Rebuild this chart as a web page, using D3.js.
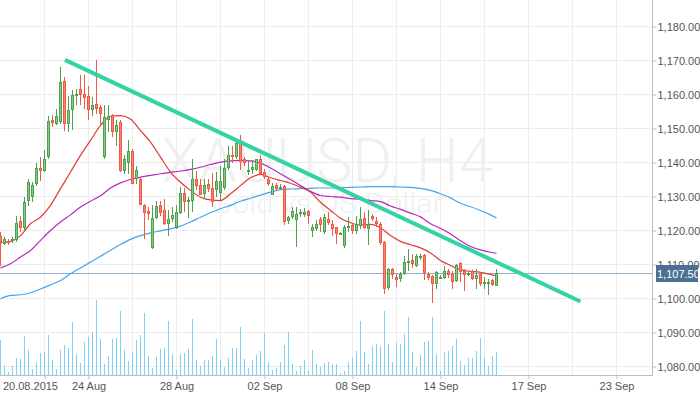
<!DOCTYPE html>
<html><head><meta charset="utf-8">
<script src="https://cdn.jsdelivr.net/npm/d3@7/dist/d3.min.js"></script>
<style>html,body{margin:0;padding:0;background:#fff;overflow:hidden}</style>
</head><body><svg id="c" width="700" height="394"></svg>
<script>
// ---- data (XAUUSD H4) ----
const opens = [1118.5,1116.1,1117.0,1116.8,1117.1,1122.7,1120.7,1128.8,1129.8,1133.7,
1138.4,1137.6,1141.5,1152.6,1151.4,1151.9,1164.1,1151.4,1155.3,1159.7,
1161.7,1160.2,1159.5,1155.3,1157.3,1156.3,1141.6,1152.6,1154.0,1149.1,
1151.9,1137.6,1139.9,1143.5,1135.2,1135.2,1127.6,1125.6,1114.8,1123.7,
1127.6,1125.9,1122.0,1123.4,1120.7,1125.2,1131.1,1128.3,1128.6,1135.2,
1133.4,1130.8,1133.7,1132.5,1132.0,1131.0,1132.6,1138.5,1142.3,1141.5,
1145.9,1141.0,1137.2,1137.9,1137.9,1140.9,1137.2,1135.2,1130.5,1133.4,
1132.3,1133.2,1122.8,1124.0,1123.0,1124.8,1124.6,1125.6,1120.0,1120.5,
1123.3,1119.5,1123.5,1122.0,1121.0,1119.1,1115.5,1120.8,1121.5,1120.0,
1121.2,1123.8,1120.5,1124.4,1122.8,1122.0,1116.6,1103.2,1108.7,1106.3,
1105.8,1107.3,1110.8,1111.3,1109.7,1112.0,1112.9,1107.3,1106.6,1104.3,
1106.0,1106.0,1108.2,1107.3,1105.2,1110.5,1108.2,1107.0,1108.2,1105.6,
1107.3,1104.3,1104.3,1105.5,1103.8];
const highs = [1119.5,1118.0,1117.6,1118.2,1124.4,1124.2,1129.9,1135.0,1134.4,1139.9,
1141.6,1143.8,1153.8,1154.0,1155.8,1168.0,1165.1,1159.7,1161.2,1161.7,
1165.6,1165.6,1162.6,1159.2,1170.0,1156.8,1156.8,1156.8,1154.3,1152.4,
1152.4,1142.1,1146.5,1144.0,1139.1,1135.4,1127.9,1126.9,1127.4,1128.8,
1128.8,1129.3,1125.9,1126.9,1127.4,1132.7,1132.5,1129.8,1140.9,1137.6,
1135.2,1135.2,1135.0,1137.0,1137.2,1139.0,1141.0,1145.0,1145.0,1147.3,
1148.0,1141.7,1140.3,1140.6,1141.1,1142.1,1138.1,1135.7,1133.9,1134.0,
1133.7,1133.4,1124.4,1127.0,1127.0,1126.2,1126.5,1126.0,1121.8,1123.0,
1124.0,1124.8,1125.5,1123.0,1121.0,1119.6,1121.5,1124.0,1122.0,1124.4,
1126.9,1125.5,1125.9,1124.9,1124.0,1122.5,1116.9,1109.0,1109.0,1107.3,
1107.7,1112.6,1114.6,1113.0,1113.0,1113.0,1113.1,1107.7,1106.8,1108.2,
1107.0,1109.7,1108.7,1108.0,1110.2,1110.7,1108.7,1108.2,1108.5,1108.7,
1107.7,1106.3,1105.8,1105.8,1108.7];
const lows = [1109.7,1115.8,1115.8,1116.2,1116.6,1119.5,1120.0,1127.2,1128.3,1133.2,
1134.7,1137.2,1140.9,1150.4,1150.9,1151.4,1149.4,1149.1,1149.7,1156.8,
1157.0,1155.8,1152.4,1153.8,1154.3,1151.4,1141.1,1148.9,1147.4,1145.0,
1137.2,1136.7,1136.7,1133.7,1133.7,1127.5,1117.6,1123.0,1114.6,1123.4,
1124.4,1121.5,1118.5,1122.5,1120.5,1124.9,1125.4,1123.6,1125.4,1131.8,
1130.3,1129.3,1131.3,1126.9,1129.8,1129.0,1132.0,1137.8,1139.8,1141.0,
1137.7,1139.1,1136.2,1136.7,1137.6,1136.2,1135.2,1133.2,1130.3,1131.8,
1131.8,1121.5,1122.0,1123.5,1115.1,1124.0,1124.0,1122.0,1118.2,1120.0,
1119.5,1119.0,1121.5,1118.5,1116.0,1119.0,1115.0,1119.5,1119.0,1119.0,
1120.5,1120.3,1115.6,1122.8,1121.0,1115.8,1101.4,1102.5,1105.8,1103.5,
1104.8,1106.8,1108.2,1109.0,1109.4,1111.2,1105.3,1105.5,1098.7,1102.9,
1105.6,1105.6,1106.0,1102.8,1104.8,1104.8,1102.3,1106.5,1105.3,1102.8,
1103.8,1102.8,1101.1,1103.8,1103.6];
const closes = [1116.5,1117.4,1116.3,1117.5,1122.3,1120.7,1128.5,1134.2,1133.4,1138.5,
1137.4,1141.1,1152.3,1151.6,1153.8,1163.8,1151.4,1155.3,1159.9,1160.2,
1159.9,1158.9,1155.3,1157.0,1155.8,1154.3,1153.3,1153.8,1148.9,1151.1,
1137.6,1140.9,1143.5,1133.7,1137.8,1127.6,1125.1,1124.9,1123.7,1127.2,
1125.2,1122.0,1123.4,1124.6,1125.4,1131.1,1128.3,1129.0,1135.0,1133.2,
1130.5,1133.4,1132.3,1128.3,1134.7,1134.5,1138.5,1142.3,1141.6,1145.6,
1140.2,1140.0,1137.7,1138.7,1140.9,1136.7,1135.7,1133.7,1133.2,1132.3,
1132.9,1122.4,1123.9,1125.8,1124.9,1125.4,1125.5,1124.4,1121.0,1122.0,
1121.6,1124.0,1122.3,1120.5,1119.0,1119.4,1121.0,1121.3,1120.0,1122.0,
1123.4,1120.6,1122.0,1123.5,1121.9,1116.4,1102.9,1108.7,1106.8,1105.3,
1107.3,1110.7,1111.1,1110.2,1112.4,1112.6,1107.5,1106.0,1104.3,1107.7,
1106.3,1108.2,1107.0,1104.8,1109.9,1107.7,1106.8,1107.6,1105.6,1107.0,
1104.3,1105.0,1105.0,1104.0,1107.5];
const volumes = [35,9,3,9,17,16,39,25,6,13,22,23,40,15,6,25,30,27,53,21,
12,33,38,43,75,36,11,19,36,37,64,25,14,23,35,40,62,19,7,18,
26,27,54,21,5,21,22,26,56,15,9,15,15,19,36,15,8,17,27,27,
48,16,7,15,20,24,42,13,5,7,13,30,43,11,4,9,15,4,25,11,
8,12,13,11,11,2,4,13,17,24,54,23,11,29,31,29,64,31,13,32,
31,41,58,23,8,20,33,34,58,21,4,23,24,29,36,14,10,17,17,24,
37,17,9,19,23];
// moving averages, sampled at bar positions
const maBars = [0,2.5,5,7.5,10,12.5,15,17.5,20,22.5,25,27.5,30,32.5,35,37.5,40,42.5,45,47.5,
50,52.5,55,57.5,60,62.5,65,67.5,70,72.5,75,77.5,80,82.5,85,87.5,90,92.5,95,97.5,
100,102.5,105,107.5,110,112.5,115,117.5,120,122.5,124];
const maFast = [1116.4,1116.8,1118.5,1122.0,1123.9,1127.4,1132.3,1137.2,1142.1,1146.5,
1150.9,1153.6,1153.8,1152.8,1149.4,1146.0,1141.6,1137.2,1134.2,1131.8,
1129.8,1129.0,1128.8,1130.8,1133.2,1135.5,1136.5,1135.5,1134.7,1133.9,
1132.7,1131.3,1128.3,1125.9,1123.6,1122.3,1121.6,1121.8,1120.8,1118.5,
1116.8,1115.8,1114.9,1113.4,1111.2,1109.7,1108.4,1108.0,1107.7,1107.1,1106.6];
const maMid = [1109.0,1110.2,1112.2,1114.1,1117.1,1120.0,1122.5,1124.6,1126.9,1128.6,
1130.2,1132.5,1134.0,1135.0,1135.7,1136.2,1136.7,1137.1,1137.5,1138.0,
1138.6,1139.4,1140.1,1140.5,1140.6,1140.5,1139.8,1138.4,1136.7,1135.0,
1133.2,1131.5,1130.3,1130.0,1129.8,1129.4,1129.2,1128.8,1128.5,1127.2,
1126.2,1125.1,1124.0,1122.0,1120.6,1119.0,1117.0,1115.3,1114.3,1113.6,1113.3];
const maSlow = [1099.9,1100.9,1101.1,1101.7,1102.8,1104.0,1105.3,1107.3,1109.0,1110.7,
1112.4,1114.2,1115.9,1117.4,1118.5,1119.3,1119.9,1120.5,1121.3,1122.5,
1123.9,1125.2,1126.4,1127.4,1128.6,1129.5,1130.4,1131.3,1132.0,1132.2,
1132.3,1132.4,1132.5,1132.5,1132.6,1132.7,1132.8,1132.9,1132.9,1132.9,
1132.8,1132.7,1132.4,1131.8,1130.8,1129.6,1128.0,1127.0,1125.9,1124.6,1123.7];
const trendBars = [16.1, 145];
const trendPrices = [1170.2, 1099.1];
const lastPrice = 1107.5;
const yTicks = [1080,1090,1100,1110,1120,1130,1140,1150,1160,1170,1180];
const xTickBars = [11,22,44,66,88,110,132,154];
const xTickLabels = ["20.08.2015","24 Aug","28 Aug","02 Sep","08 Sep","14 Sep","17 Sep","23 Sep"];
const gridBars = [11,22,33,44,55,66,77,88,99,110,121,132,143,154];
const symbolText = "XAUUSD, H4";
const descText = "Gold vs US Dollar";

// ---- chart ----
const W = 652, H = 375;
const svg = d3.select("#c");
const font = "'Liberation Sans', Arial, sans-serif";
const x = d3.scaleLinear().domain([0, 163]).range([0.5, 652.5]);
const y = d3.scaleLinear().domain([1080, 1180]).range([366.5, 26.5]);
const yv = d3.scaleLinear().domain([0, 80]).range([375, 295]);

svg.append("defs").append("clipPath").attr("id","clip")
  .append("rect").attr("x",0).attr("y",0).attr("width",W).attr("height",H);

// grid
const grid = svg.append("g");
grid.selectAll(".hg").data(yTicks).join("line")
  .attr("x1",0).attr("x2",W).attr("y1",d=>y(d)).attr("y2",d=>y(d))
  .attr("stroke","#ececec").attr("stroke-width",1);
grid.selectAll(".vg").data(gridBars).join("line")
  .attr("x1",d=>x(d)).attr("x2",d=>x(d)).attr("y1",0).attr("y2",H)
  .attr("stroke","#ececec").attr("stroke-width",1);

// watermark
svg.append("text").attr("x",327).attr("y",182).attr("text-anchor","middle")
  .attr("font-family","Roboto, 'Liberation Sans', sans-serif").attr("font-weight",300)
  .attr("font-size",62).attr("fill","#f0f0f0")
  .attr("textLength",331).attr("lengthAdjust","spacingAndGlyphs").text(symbolText);
svg.append("text").attr("x",327).attr("y",213).attr("text-anchor","middle")
  .attr("font-family","Roboto, 'Liberation Sans', sans-serif").attr("font-weight",300)
  .attr("font-size",28).attr("fill","#f0f0f0")
  .attr("textLength",232).attr("lengthAdjust","spacingAndGlyphs").text(descText);

const plot = svg.append("g").attr("clip-path","url(#clip)");
const idx = d3.range(opens.length);

// volumes
plot.selectAll(".vol").data(idx).join("line")
  .attr("x1",i=>x(i)).attr("x2",i=>x(i))
  .attr("y1",yv(0)).attr("y2",i=>yv(volumes[i]))
  .attr("stroke","#7fd0f7").attr("stroke-width",1);

// last price line
plot.append("line").attr("x1",0).attr("x2",W)
  .attr("y1",Math.round(y(lastPrice))+0.5).attr("y2",Math.round(y(lastPrice))+0.5)
  .attr("stroke","#93adc8").attr("stroke-width",1);

// moving averages
const ma = d3.line().x(d=>x(d[0])).y(d=>y(d[1])).curve(d3.curveMonotoneX);
[[maSlow,"#42a5ef"],[maMid,"#b927c0"],[maFast,"#e23b35"]].forEach(([vals,col])=>{
  plot.append("path").attr("d", ma(maBars.map((b,k)=>[b,vals[k]])))
    .attr("fill","none").attr("stroke",col).attr("stroke-width",1.2);
});

// candles
const up = i => closes[i] >= opens[i];
const cg = plot.selectAll(".cdl").data(idx).join("g");
cg.append("line").attr("x1",i=>x(i)).attr("x2",i=>x(i))
  .attr("y1",i=>Math.round(y(highs[i]))).attr("y2",i=>Math.round(y(lows[i])))
  .attr("stroke",i=>up(i)?"#4e9f50":"#ee5a45").attr("stroke-width",1);
cg.append("rect").attr("x",i=>x(i)-1).attr("width",2)
  .attr("y",i=>Math.round(y(Math.max(opens[i],closes[i])))+0.5)
  .attr("height",i=>Math.max(1,Math.round(y(Math.min(opens[i],closes[i])))-Math.round(y(Math.max(opens[i],closes[i])))-1))
  .attr("fill",i=>up(i)?"#86c986":"#f6826f")
  .attr("stroke",i=>up(i)?"#4e9f50":"#ee5a45").attr("stroke-width",1);

// trend line
svg.append("line").attr("x1",x(trendBars[0])).attr("y1",y(trendPrices[0]))
  .attr("x2",x(trendBars[1])).attr("y2",y(trendPrices[1]))
  .attr("stroke","#35d3a2").attr("stroke-width",4);

// axes frames
svg.append("line").attr("x1",652.5).attr("x2",652.5).attr("y1",0).attr("y2",H+0.5)
  .attr("stroke","#b8bfc6");
svg.append("line").attr("x1",0).attr("x2",653).attr("y1",H+0.5).attr("y2",H+0.5)
  .attr("stroke","#b8bfc6");

const yAx = svg.append("g").attr("transform","translate(652.5,0)")
  .call(d3.axisRight(y).tickValues(yTicks).tickFormat(d3.format(",.2f")).tickSize(4).tickPadding(1));
yAx.select(".domain").remove();
yAx.selectAll("line").attr("stroke","#b8bfc6");
yAx.selectAll("text").attr("font-family",font).attr("font-size",11).attr("fill","#555");

const xAx = svg.append("g").attr("transform",`translate(0,${H+0.5})`)
  .call(d3.axisBottom(x).tickValues(xTickBars).tickFormat((d,i)=>xTickLabels[i]).tickSize(4).tickPadding(3));
xAx.select(".domain").remove();
xAx.selectAll("line").attr("stroke","#b8bfc6");
xAx.selectAll("text").attr("font-family",font).attr("font-size",11).attr("fill","#555");
xAx.selectAll("text").filter((d,i)=>i===0).attr("text-anchor","end").attr("x",13);

// last price tag
svg.append("rect").attr("x",656).attr("y",Math.round(y(lastPrice))-8).attr("width",42).attr("height",17)
  .attr("fill","#4d6f93");
svg.append("text").attr("x",657).attr("y",Math.round(y(lastPrice))+4.5)
  .attr("font-family",font).attr("font-size",11).attr("fill","#fff").text(d3.format(",.2f")(lastPrice));
</script></body></html>
